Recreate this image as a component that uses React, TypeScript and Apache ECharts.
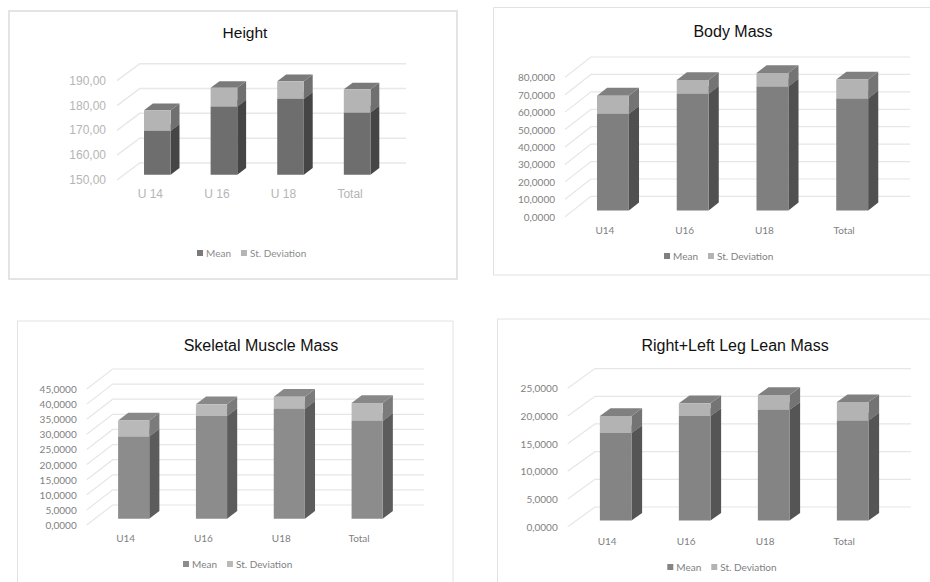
import React, { useEffect, useRef } from "react";
import * as echarts from "echarts";

const categoriesHeight = ["U 14", "U 16", "U 18", "Total"];
const categories = ["U14", "U16", "U18", "Total"];

const heightMean = [167.7, 177.5, 180.6, 175.1];
const heightSd = [8.3, 7.5, 7.1, 9.3];
const heightTicks = [150, 160, 170, 180, 190];

const bodyMean = [55.4, 66.9, 71.1, 64.2];
const bodySd = [10.4, 7.9, 7.7, 10.9];
const bodyTicks = [0, 10, 20, 30, 40, 50, 60, 70, 80];

const muscleMean = [27.2, 34.0, 36.4, 32.4];
const muscleSd = [5.3, 3.9, 4.0, 5.9];
const muscleTicks = [0, 5, 10, 15, 20, 25, 30, 35, 40, 45];

const legMean = [15.8, 18.9, 20.0, 18.1];
const legSd = [3.1, 2.3, 2.7, 3.3];
const legTicks = [0, 5, 10, 15, 20, 25];

const BAR_W = 0.4;
const INSET = 0.31;
const DEPTH = 0.39;

const panels = [
  {
    title: "Height", titleX: 245, titleY: 32, titleSize: 15.5,
    cats: categoriesHeight, mean: heightMean, sd: heightSd, ticks: heightTicks, decimals: 2, interval: 10,
    left: 117, top: 80.7, width: 266.4, height: 99.3, dx: 22.7, dy: 17,
    labelFont: "Liberation Sans", labelSize: 12, labelColor: "#b5b5b5", labelMargin: 11, xMargin: 8, xSize: 12,
    lineColor: "#e8e8e8", lineWidth: 1.5,
    colors: { mean: "#6e6e6e", meanSide: "#454545", sd: "#b4b4b4", sdSide: "#707070", top: "#7a7a7a", legendMean: "#7a7a7a", legendSd: "#b4b4b4", text: "#8c8c8c" },
    legendX: 197, legendY: 248, legendGap: 10,
  },
  {
    title: "Body Mass", titleX: 733, titleY: 31, titleSize: 16,
    cats: categories, mean: bodyMean, sd: bodySd, ticks: bodyTicks, decimals: 4, interval: 10,
    left: 565, top: 77.3, width: 319, height: 139.4, dx: 26, dy: 20.3,
    labelFont: "Lato", labelSize: 10, labelColor: "#7f7f7f", labelMargin: 10, xMargin: 8.5, xSize: 10,
    lineColor: "#e6e6e6", lineWidth: 1.2,
    colors: { mean: "#7f7f7f", meanSide: "#505050", sd: "#b3b3b3", sdSide: "#747474", top: "#808080", legendMean: "#7f7f7f", legendSd: "#b3b3b3", text: "#7f7f7f" },
    legendX: 664, legendY: 251, legendGap: 10,
  },
  {
    title: "Skeletal Muscle Mass", titleX: 261, titleY: 345, titleSize: 16,
    cats: categories, mean: muscleMean, sd: muscleSd, ticks: muscleTicks, decimals: 4, interval: 5,
    left: 86.7, top: 389, width: 311.3, height: 136, dx: 26, dy: 20,
    labelFont: "Lato", labelSize: 10, labelColor: "#7f7f7f", labelMargin: 10, xMargin: 8, xSize: 10,
    lineColor: "#e6e6e6", lineWidth: 1.2,
    colors: { mean: "#8c8c8c", meanSide: "#5c5c5c", sd: "#b9b9b9", sdSide: "#7b7b7b", top: "#888888", legendMean: "#8c8c8c", legendSd: "#b9b9b9", text: "#7f7f7f" },
    legendX: 183, legendY: 559, legendGap: 10,
  },
  {
    title: "Right+Left Leg Lean Mass", titleX: 735, titleY: 345, titleSize: 16,
    cats: categories, mean: legMean, sd: legSd, ticks: legTicks, decimals: 4, interval: 5,
    left: 567.7, top: 388.3, width: 316, height: 138.4, dx: 27.3, dy: 19.7,
    labelFont: "Lato", labelSize: 10, labelColor: "#7f7f7f", labelMargin: 10, xMargin: 9, xSize: 10,
    lineColor: "#e6e6e6", lineWidth: 1.2,
    colors: { mean: "#848484", meanSide: "#555555", sd: "#b3b3b3", sdSide: "#747474", top: "#808080", legendMean: "#848484", legendSd: "#b3b3b3", text: "#7f7f7f" },
    legendX: 667.3, legendY: 562, legendGap: 10,
  },
];

function wallRenderer(p: any) {
  return (params: any, api: any) => {
    const cs = params.coordSys;
    const y = api.coord([0, api.value(0)])[1];
    return {
      type: "polyline",
      shape: { points: [[cs.x, y], [cs.x + p.dx, y - p.dy], [cs.x + cs.width + p.dx, y - p.dy]] },
      style: { stroke: p.lineColor, lineWidth: p.lineWidth, fill: "none" },
      silent: true,
    };
  };
}

function barRenderer(p: any, front: string, side: string) {
  return (_params: any, api: any) => {
    const cat = api.value(0);
    const lo = api.coord([cat, api.value(1)]);
    const hi = api.coord([cat, api.value(2)]);
    const band = api.size([1, 0])[0];
    const w = band * BAR_W;
    const x0 = lo[0] + p.dx * INSET - w / 2;
    const x1 = x0 + w;
    const yb = lo[1] - p.dy * INSET;
    const yt = hi[1] - p.dy * INSET;
    const ddx = p.dx * DEPTH;
    const ddy = p.dy * DEPTH;
    return {
      type: "group",
      children: [
        { type: "polygon", shape: { points: [[x1, yb], [x1 + ddx, yb - ddy], [x1 + ddx, yt - ddy], [x1, yt]] }, style: { fill: side } },
        { type: "polygon", shape: { points: [[x0, yt], [x1, yt], [x1 + ddx, yt - ddy], [x0 + ddx, yt - ddy]] }, style: { fill: p.colors.top } },
        { type: "rect", shape: { x: x0, y: yt, width: w, height: yb - yt }, style: { fill: front } },
      ],
    };
  };
}

function buildOption() {
  const grid: any[] = [];
  const xAxis: any[] = [];
  const yAxis: any[] = [];
  const series: any[] = [];
  const legend: any[] = [];
  const title: any[] = [];

  panels.forEach((p, i) => {
    grid.push({ left: p.left, top: p.top, width: p.width, height: p.height, containLabel: false });
    xAxis.push({
      type: "category", gridIndex: i, data: p.cats,
      axisLine: { show: false }, axisTick: { show: false }, splitLine: { show: false },
      axisLabel: { color: p.labelColor, fontFamily: p.labelFont, fontSize: p.xSize, margin: p.xMargin, interval: 0 },
    });
    yAxis.push({
      type: "value", gridIndex: i, min: p.ticks[0], max: p.ticks[p.ticks.length - 1], interval: p.interval,
      axisLine: { show: false }, axisTick: { show: false }, splitLine: { show: false },
      axisLabel: {
        color: p.labelColor, fontFamily: p.labelFont, fontSize: p.labelSize, margin: p.labelMargin,
        formatter: (v: number) => v.toFixed(p.decimals).replace(".", ","),
      },
    });
    title.push({
      text: p.title, left: p.titleX, top: p.titleY, textAlign: "center", textVerticalAlign: "middle", padding: 0,
      textStyle: { color: "#111111", fontFamily: "Liberation Sans", fontWeight: "normal", fontSize: p.titleSize },
    });
    series.push({
      type: "custom", name: "wall" + i, xAxisIndex: i, yAxisIndex: i, z: 1, silent: true,
      data: p.ticks.map((t) => [t]), encode: { y: 0 }, renderItem: wallRenderer(p),
    });
    series.push({
      type: "custom", name: "Mean", xAxisIndex: i, yAxisIndex: i, z: 2,
      itemStyle: { color: p.colors.legendMean },
      data: p.mean.map((m, k) => [k, p.ticks[0], m]), encode: { x: 0, y: [1, 2] },
      renderItem: barRenderer(p, p.colors.mean, p.colors.meanSide),
    });
    series.push({
      type: "custom", name: "St. Deviation", xAxisIndex: i, yAxisIndex: i, z: 3,
      itemStyle: { color: p.colors.legendSd },
      data: p.mean.map((m, k) => [k, m, m + p.sd[k]]), encode: { x: 0, y: [1, 2] },
      renderItem: barRenderer(p, p.colors.sd, p.colors.sdSide),
    });
    legend.push({
      left: p.legendX, top: p.legendY, orient: "horizontal", icon: "rect", itemWidth: 6, itemHeight: 6,
      itemGap: p.legendGap, padding: 0, selectedMode: false,
      textStyle: { color: p.colors.text, fontFamily: "Lato", fontSize: 10, padding: [0, 0, 0, -2] },
      data: [
        { name: "Mean", itemStyle: { color: p.colors.legendMean } },
        { name: "St. Deviation", itemStyle: { color: p.colors.legendSd } },
      ],
    });
  });

  const frame = (x: number, y: number, width: number, height: number, stroke: string, lineWidth: number) => ({
    type: "rect", shape: { x, y, width, height }, style: { fill: "none", stroke, lineWidth }, silent: true,
  });

  return {
    animation: false,
    backgroundColor: "#ffffff",
    title, grid, xAxis, yAxis, series, legend,
    tooltip: { show: false },
    graphic: {
      elements: [
        frame(9, 11, 448, 268, "#e4e4e4", 2),
        frame(493.5, 7.5, 460, 267.5, "#e2e2e2", 1),
        frame(17.5, 321, 435.5, 280, "#e2e2e2", 1),
        frame(497.5, 319, 460, 280, "#e2e2e2", 1),
      ],
    },
  };
}

export default function App() {
  const ref = useRef<HTMLDivElement>(null);
  useEffect(() => {
    const chart = echarts.init(ref.current as HTMLDivElement, undefined, { renderer: "svg" });
    chart.setOption(buildOption() as any);
    return () => chart.dispose();
  }, []);
  return <div ref={ref} style={{ position: "absolute", left: 0, top: 0, width: 930, height: 582 }} />;
}
